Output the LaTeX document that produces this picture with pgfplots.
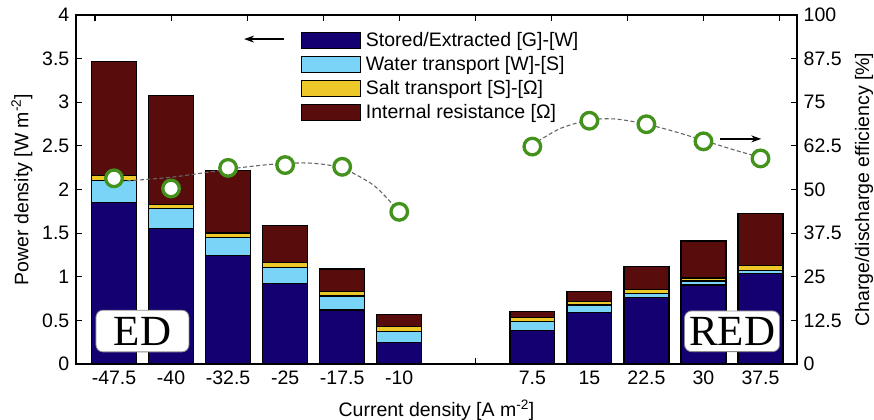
\documentclass[border=0pt]{standalone}
\usepackage{pgfplots}
\pgfplotsset{compat=1.18}
\usepackage{fontspec}
\setmainfont{Liberation Sans}
\newfontfamily\timesfont{Liberation Serif}
\usetikzlibrary{arrows.meta}
\definecolor{cStored}{RGB}{20,0,112}
\definecolor{cWater}{RGB}{122,212,248}
\definecolor{cSalt}{RGB}{236,200,40}
\definecolor{cRes}{RGB}{88,12,12}
\definecolor{cGreen}{RGB}{66,146,28}
\begin{document}
\fontsize{19.5bp}{23bp}\selectfont
\begin{tikzpicture}
\pgfplotsset{
  common/.style={
    scale only axis, width=721bp, height=349bp,
    xmin=-52.5, xmax=42.3,
    tick align=inside,
    major tick length=6.5bp,
    axis line style={line width=1.3bp},
    tick style={black, line width=1.1bp},
    tick label style={font=\fontsize{19.5bp}{23bp}\selectfont},
    label style={font=\fontsize{19.5bp}{23bp}\selectfont},
  }
}
\begin{axis}[common, name=main,
  ymin=0, ymax=4,
  ybar stacked, bar width=5.9,
  xtick={-47.5,-40,-32.5,-25,-17.5,-10,7.5,15,22.5,30,37.5},
  xticklabels={-47.5,-40,-32.5,-25,-17.5,-10,7.5,15,22.5,30,37.5},
  xtick pos=left,
  extra x ticks={0}, extra x tick labels={},
  ytick={0,0.5,1,1.5,2,2.5,3,3.5,4},
  yticklabels={0,0.5,1,1.5,2,2.5,3,3.5,4},
  ytick pos=left,
  xlabel={Current density [A m\textsuperscript{-2}]},
  ylabel={Power density [W m\textsuperscript{-2}]},
  every axis x label/.style={at={(axis description cs:0.5,-0.132)}, anchor=center},
  every axis y label/.style={at={(axis description cs:-0.075,0.5)}, anchor=center, rotate=90},
  legend style={at={(axis description cs:0.3117,0.957)}, anchor=north west,
    draw=none, fill=none, inner sep=0pt, row sep=3bp,
    font=\fontsize{19.5bp}{23bp}\selectfont, nodes={inner sep=2bp},
    /tikz/every odd column/.append style={column sep=3bp}},
  legend cell align=left,
  legend image code/.code={\draw[#1, line width=1bp] (0bp,-7.9bp) rectangle (59bp,7.9bp);},
]
\addplot[fill=cStored, draw=black, line width=1.3bp] coordinates {
 (-47.5,1.85) (-40,1.555) (-32.5,1.24) (-25,0.925) (-17.5,0.62) (-10,0.25)
 (7.5,0.38) (15,0.59) (22.5,0.76) (30,0.905) (37.5,1.04)};
\addlegendentry{Stored/Extracted [G]-[W]}
\addplot[fill=cWater, draw=black, line width=1.3bp] coordinates {
 (-47.5,0.25) (-40,0.225) (-32.5,0.21) (-25,0.185) (-17.5,0.16) (-10,0.125)
 (7.5,0.11) (15,0.085) (22.5,0.05) (30,0.045) (37.5,0.035)};
\addlegendentry{Water transport [W]-[S]}
\addplot[fill=cSalt, draw=black, line width=1.3bp] coordinates {
 (-47.5,0.06) (-40,0.05) (-32.5,0.05) (-25,0.05) (-17.5,0.05) (-10,0.055)
 (7.5,0.04) (15,0.04) (22.5,0.045) (30,0.035) (37.5,0.05)};
\addlegendentry{Salt transport [S]-[Ω]}
\addplot[fill=cRes, draw=black, line width=1.3bp] coordinates {
 (-47.5,1.31) (-40,1.245) (-32.5,0.72) (-25,0.43) (-17.5,0.26) (-10,0.14)
 (7.5,0.07) (15,0.115) (22.5,0.26) (30,0.425) (37.5,0.60)};
\addlegendentry{Internal resistance [Ω]}
\end{axis}
\begin{axis}[common,
  ymin=0, ymax=100,
  xtick={-50,-40,-30,-20,-10,0,10,20,30,40}, xticklabels={}, xtick pos=right,
  ytick={0,12.5,25,37.5,50,62.5,75,87.5,100},
  yticklabels={0,12.5,25,37.5,50,62.5,75,87.5,100},
  ytick pos=right, yticklabel pos=right,
  ylabel={Charge/discharge efficiency [\%]},
  every axis y label/.style={at={(axis description cs:1.093,0.5)}, anchor=center, rotate=90},
]
\addplot[only marks, mark=*, mark size=8.3bp,
  mark options={draw=cGreen, fill=white, line width=3.3bp}] coordinates {
 (-47.5,53.2) (-40,50.3) (-32.5,56.2) (-25,57.0) (-17.5,56.5) (-10,43.6)
 (7.5,62.3) (15,69.7) (22.5,68.7) (30,63.8) (37.5,58.9)};
\addplot[smooth, no marks, draw=black!60, line width=1.1bp, dash pattern=on 4bp off 2.5bp] coordinates {
 (-47.5,52.2) (-43.75,52.8) (-40,53.5) (-36.25,54.6) (-32.5,55.8) (-28.75,56.8) (-25,57.5)
 (-21.25,57.5) (-17.5,56.1) (-13.75,51.8) (-11.9,48.2) (-10,43.6)};
\addplot[smooth, no marks, draw=black!60, line width=1.1bp, dash pattern=on 4bp off 2.5bp] coordinates {
 (7.5,62.8) (11.2,67.5) (15.1,69.9) (18.4,70.2) (22.3,68.8) (26.2,66.6) (30.1,64.0) (34.1,61.3) (37.5,59.2)};
\node[draw=black!45, line width=0.8bp, fill=white, rounded corners=7bp,
  minimum width=93bp, minimum height=41.7bp, inner sep=0pt,
  font=\timesfont\fontsize{43bp}{43bp}\selectfont] at (axis cs:-43.76,9.45) {ED};
\node[draw=black!45, line width=0.8bp, fill=white, rounded corners=7bp,
  minimum width=95bp, minimum height=40.7bp, inner sep=0pt,
  font=\timesfont\fontsize{43bp}{43bp}\selectfont] at (axis cs:33.76,9.375) {RED};
\draw[-{Stealth[length=10bp,width=7bp]}, line width=1.3bp] (axis cs:-25.16,93.1) -- (axis cs:-30.4,93.1);
\draw[-{Stealth[length=10bp,width=7bp]}, line width=1.3bp] (axis cs:32.24,64.5) -- (axis cs:37.6,64.5);
\end{axis}
\pgfresetboundingbox
\path (main.south west) ++(-76bp,-56bp) rectangle ++(874bp,420bp);
\end{tikzpicture}
\end{document}
